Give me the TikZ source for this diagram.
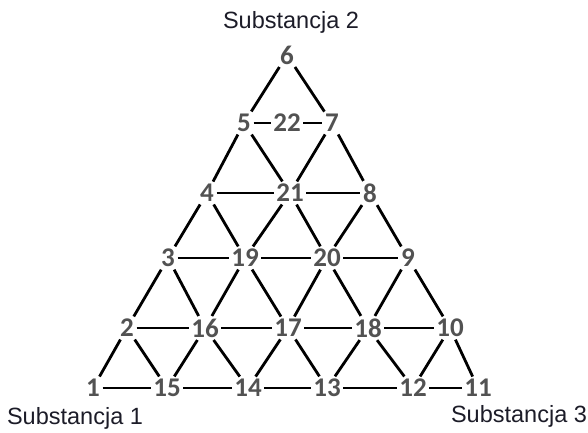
\documentclass[tikz,border=0pt]{standalone}
\usepackage{fontspec}
\setmainfont{Liberation Sans}
\newfontfamily\numfont{Carlito}
\definecolor{numgray}{HTML}{525252}
\definecolor{subcol}{HTML}{1C1C28}
\begin{document}
\begin{tikzpicture}[x=1pt,y=-1pt,
  pt/.style={font=\numfont\bfseries\fontsize{27}{30}\selectfont, text=numgray, inner sep=2.5pt},
  sub/.style={font=\fontsize{23.5}{27}\selectfont, text=subcol, inner sep=0pt},
  edge/.style={line width=2.8pt, black}]
\useasboundingbox (0,0) rectangle (588,432);
\node[pt] (n1) at (93,388) {1};
\node[pt] (n15) at (167,388) {15};
\node[pt] (n14) at (248,388) {14};
\node[pt] (n13) at (327,388) {13};
\node[pt] (n12) at (413,388) {12};
\node[pt] (n11) at (478,388) {11};
\node[pt] (n2) at (127,328) {2};
\node[pt] (n16) at (205,328) {16};
\node[pt] (n17) at (288,328) {17};
\node[pt] (n18) at (368,328) {18};
\node[pt] (n10) at (450,328) {10};
\node[pt] (n3) at (168,258) {3};
\node[pt] (n19) at (245,258) {19};
\node[pt] (n20) at (327,258) {20};
\node[pt] (n9) at (408,258) {9};
\node[pt] (n4) at (207,193) {4};
\node[pt] (n21) at (290,193) {21};
\node[pt] (n8) at (370,193) {8};
\node[pt] (n5) at (244,123) {5};
\node[pt] (n22) at (287,123) {22};
\node[pt] (n7) at (332,123) {7};
\node[pt] (n6) at (287,55) {6};
\node[sub] (s2) at (291,22) {Substancja 2};
\node[sub] (s1) at (75,418) {Substancja 1};
\node[sub] (s3) at (519,416) {Substancja 3};
% horizontal
\foreach \a/\b in {1/15,15/14,14/13,13/12,12/11,2/16,16/17,17/18,18/10,3/19,19/20,20/9,4/21,21/8,5/22,22/7}
  \draw[edge] (n\a) -- (n\b);
% up-right diagonals
\foreach \a/\b in {1/2,2/3,3/4,4/5,5/6,15/16,16/19,19/21,21/7,14/17,17/20,20/8,13/18,18/9,12/10}
  \draw[edge] (n\a) -- (n\b);
% up-left diagonals
\foreach \a/\b in {11/10,10/9,9/8,8/7,7/6,12/18,18/20,20/21,21/5,13/17,17/19,19/4,14/16,16/3,15/2}
  \draw[edge] (n\a) -- (n\b);
\end{tikzpicture}
\end{document}
